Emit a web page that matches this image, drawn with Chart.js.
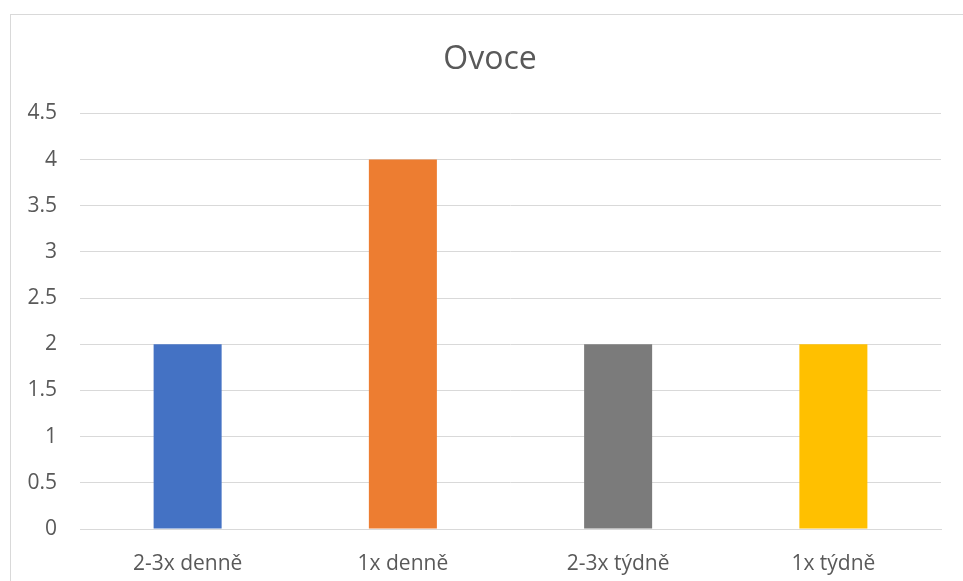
<!DOCTYPE html>
<html>
<head>
<meta charset="utf-8">
<script src="https://cdn.jsdelivr.net/npm/chart.js@4"></script>
<style>
  html, body { margin: 0; padding: 0; background: #fff; overflow: hidden; }
  #wrap { position: relative; width: 963px; height: 581px; }
  #frame {
    position: absolute; left: 10px; top: 14px; width: 970px; height: 600px;
    border: 1px solid #d9d9d9; box-sizing: border-box;
  }
  canvas { position: absolute; left: 0; top: 0; }
</style>
</head>
<body>
<div id="wrap">
  <div id="frame"></div>
  <canvas id="chart" width="963" height="581"></canvas>
</div>
<script>
const categories = ["2-3x denně", "1x denně", "2-3x týdně", "1x týdně"];
const values = [2, 4, 2, 2];
const barColors = ["#4472C4", "#ED7D31", "#7B7B7B", "#FFC000"];
const chartTitle = "Ovoce";

const textColor = "#595959";
const fontFamily = "'Open Sans', 'Liberation Sans', sans-serif";

const ctx = document.getElementById("chart").getContext("2d");
new Chart(ctx, {
  type: "bar",
  data: {
    labels: categories,
    datasets: [
      {
        data: values,
        backgroundColor: barColors,
        borderWidth: 0,
        categoryPercentage: 1,
        barPercentage: 0.316,
      },
    ],
  },
  options: {
    responsive: false,
    animation: false,
    layout: { padding: { left: 20, right: 3, top: 0, bottom: 0 } },
    plugins: {
      legend: { display: false },
      tooltip: { enabled: false },
      title: {
        display: true,
        text: chartTitle,
        color: textColor,
        font: { family: fontFamily, size: 32, weight: "normal" },
        padding: { top: 41, bottom: 34 },
      },
    },
    scales: {
      x: {
        grid: { display: false, drawTicks: false },
        border: { color: "#d9d9d9", width: 1 },
        ticks: {
          color: textColor,
          font: { family: fontFamily, size: 21 },
          padding: 22,
        },
        afterFit: (scale) => {
          scale.height = 52;
        },
      },
      y: {
        min: 0,
        max: 4.5,
        grid: { color: "#d9d9d9", drawTicks: false },
        border: { display: false },
        ticks: {
          stepSize: 0.5,
          color: textColor,
          font: { family: fontFamily, size: 21 },
          padding: 23,
          callback: (value) => String(value),
        },
        afterFit: (scale) => {
          scale.width = 60;
        },
      },
      // empty spacer on the right so the title centres like the original
      spacer: {
        type: "linear",
        position: "right",
        grid: { display: false, drawTicks: false },
        border: { display: false },
        ticks: { display: false },
        afterFit: (scale) => {
          scale.width = 19;
        },
      },
    },
  },
});
</script>
</body>
</html>
